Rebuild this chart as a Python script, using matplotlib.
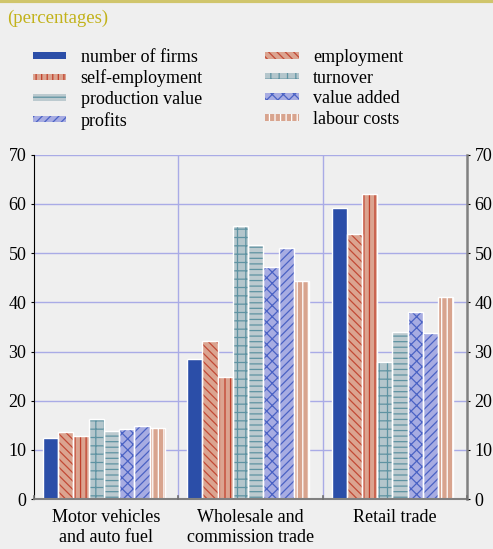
import numpy as np
import matplotlib
matplotlib.use('Agg')
import matplotlib.pyplot as plt
from matplotlib.patches import Patch
from matplotlib.lines import Line2D

plt.rcParams['font.family'] = ['Liberation Serif', 'DejaVu Serif']
plt.rcParams['hatch.linewidth'] = 0.9

# sectors and shares (percentages)
sectors = ['Motor vehicles\nand auto fuel', 'Wholesale and\ncommission trade', 'Retail trade']
series = ['number of firms', 'employment', 'self-employment', 'turnover',
          'production value', 'value added', 'profits', 'labour costs']
number_of_firms = [12.5, 28.4, 59.2]
employment = [13.6, 32.2, 53.9]
self_employment = [12.9, 24.9, 62.1]
turnover = [16.3, 55.5, 27.9]
production_value = [13.9, 51.6, 34.0]
value_added = [14.3, 47.1, 38.1]
profits = [14.9, 51.1, 33.7]
labour_costs = [14.4, 44.4, 41.0]
values = [number_of_firms, employment, self_employment, turnover,
          production_value, value_added, profits, labour_costs]

# fill colour, hatch, hatch colour for each series
styles = [
    ('#2b4ea8', None, '#2b4ea8'),
    ('#dba490', '\\\\\\\\', '#c24a36'),
    ('#dba490', '|||', '#c0402c'),
    ('#b4c6cc', '++', '#5f93a2'),
    ('#bccacf', '---', '#5f93a2'),
    ('#a7ace2', 'xxx', '#4a62c4'),
    ('#a7ace2', '////', '#4a62c4'),
    ('#d8a48e', '|||', '#ffffff'),
]

bg = '#efefef'
grid_c = '#a9abe6'

fig = plt.figure(figsize=(4.93, 5.49), dpi=100, facecolor=bg)
ax = fig.add_axes([0.069, 0.091, 0.878, 0.627], facecolor=bg)

x = np.arange(len(sectors)) + 0.5
w = 0.1056
for i, vals in enumerate(values):
    fc, hatch, hc = styles[i]
    pos = x + (i - 3.5) * w - 0.0155
    ax.bar(pos, vals, w, color=fc, hatch=hatch, edgecolor=hc, linewidth=0, zorder=3)
    ax.bar(pos, vals, w, facecolor='none', edgecolor='white', linewidth=1.0, zorder=4)

ax.set_xlim(0, 3)
ax.set_ylim(0, 70)
ax.set_yticks(range(0, 71, 10))
ax.set_xticks(x)
ax.set_xticklabels(sectors, fontsize=13, linespacing=1.25)
ax.tick_params(axis='x', length=0, pad=7)
ax.tick_params(axis='y', labelsize=13, length=2, direction='out', left=True, right=True,
               labelleft=True, labelright=True, colors='black')

for y in range(10, 71, 10):
    ax.axhline(y, color=grid_c, lw=1, zorder=1)
for xv in [1, 2]:
    ax.axvline(xv, color=grid_c, lw=1, zorder=1)

# small upward ticks at the group boundaries on the bottom axis
for xv in [0, 1, 2, 3]:
    ax.plot([xv, xv], [0, 0.7], color='#707070', lw=1.2, clip_on=False, zorder=7)

ax.spines['top'].set_visible(False)
ax.spines['left'].set_color('black')
ax.spines['right'].set_color('#808080')
ax.spines['right'].set_linewidth(1.8)
ax.spines['bottom'].set_color('#808080')
ax.spines['bottom'].set_linewidth(1.5)
for s in ax.spines.values():
    s.set_zorder(6)

# header
fig.add_artist(Line2D([0, 1], [0.998, 0.998], color='#d0c56c', lw=3, transform=fig.transFigure))
fig.text(0.014, 0.967, '(percentages)', color='#c2b21a', fontsize=13.5, va='center', ha='left')

# legend in two columns, filled column by column
order = [0, 2, 4, 6, 1, 3, 5, 7]
handles = []
labels = []
for i in order:
    fc, hatch, hc = styles[i]
    handles.append(Patch(facecolor=fc, hatch=hatch, edgecolor=hc, linewidth=0))
    labels.append(series[i])
fig.legend(handles, labels, loc='upper left', bbox_to_anchor=(0.052, 0.924), ncol=2,
           frameon=False, fontsize=13, handlelength=1.85, handleheight=0.2,
           handletextpad=0.8, labelspacing=0.2, columnspacing=3.45, borderaxespad=0)

fig.savefig('out.png', dpi=100, facecolor=bg)
